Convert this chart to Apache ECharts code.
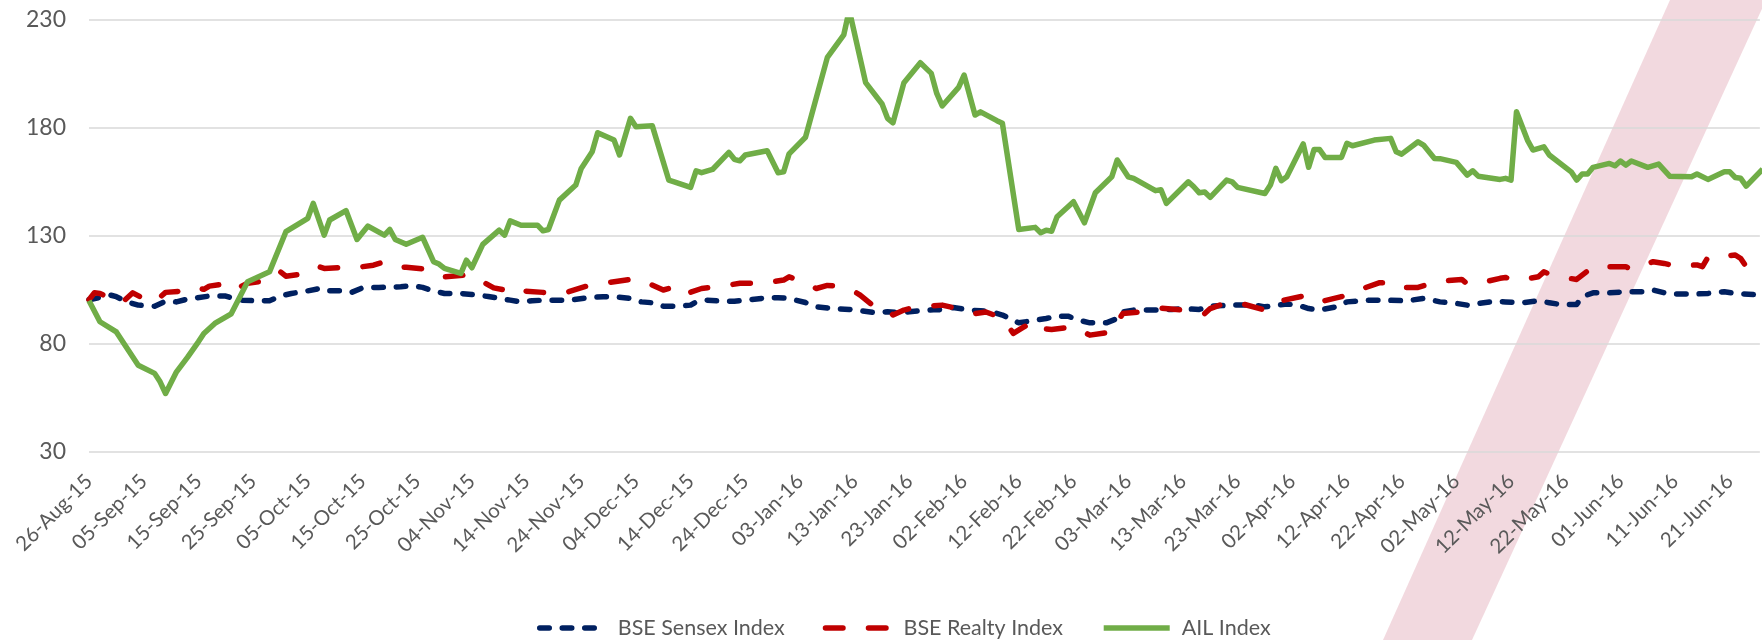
<!DOCTYPE html>
<html>
<head>
<meta charset="utf-8">
<title>BSE Sensex, BSE Realty and AIL Index</title>
<script src="https://cdn.jsdelivr.net/npm/echarts@6/dist/echarts.min.js"></script>
<style>
  html, body { margin: 0; padding: 0; background: #fff; }
  #chart { width: 1762px; height: 640px; }
</style>
</head>
<body>
<div id="chart"></div>
<script>
// x axis labels, one every 10 days from 26-Aug-15
var tickLabels = ['26-Aug-15', '05-Sep-15', '15-Sep-15', '25-Sep-15', '05-Oct-15', '15-Oct-15', '25-Oct-15',
  '04-Nov-15', '14-Nov-15', '24-Nov-15', '04-Dec-15', '14-Dec-15', '24-Dec-15', '03-Jan-16', '13-Jan-16',
  '23-Jan-16', '02-Feb-16', '12-Feb-16', '22-Feb-16', '03-Mar-16', '13-Mar-16', '23-Mar-16', '02-Apr-16',
  '12-Apr-16', '22-Apr-16', '02-May-16', '12-May-16', '22-May-16', '01-Jun-16', '11-Jun-16', '21-Jun-16'];
var yTicks = [30, 80, 130, 180, 230];

var sensexDates = ['26-Aug-15', '30-Aug-15', '31-Aug-15', '02-Sep-15', '04-Sep-15', '07-Sep-15', '09-Sep-15', '11-Sep-15',
  '13-Sep-15', '17-Sep-15', '20-Sep-15', '21-Sep-15', '23-Sep-15', '26-Sep-15', '28-Sep-15', '30-Sep-15', '02-Oct-15',
  '05-Oct-15', '07-Oct-15', '08-Oct-15', '11-Oct-15', '13-Oct-15', '15-Oct-15', '18-Oct-15', '22-Oct-15', '24-Oct-15',
  '26-Oct-15', '28-Oct-15', '30-Oct-15', '02-Nov-15', '04-Nov-15', '07-Nov-15', '11-Nov-15', '13-Nov-15', '15-Nov-15',
  '17-Nov-15', '22-Nov-15', '25-Nov-15', '28-Nov-15', '30-Nov-15', '03-Dec-15', '05-Dec-15', '07-Dec-15', '09-Dec-15',
  '11-Dec-15', '14-Dec-15', '15-Dec-15', '17-Dec-15', '20-Dec-15', '22-Dec-15', '24-Dec-15', '28-Dec-15', '30-Dec-15',
  '01-Jan-16', '04-Jan-16', '06-Jan-16', '09-Jan-16', '12-Jan-16', '14-Jan-16', '17-Jan-16', '19-Jan-16', '21-Jan-16',
  '23-Jan-16', '25-Jan-16', '28-Jan-16', '29-Jan-16', '31-Jan-16', '03-Feb-16', '05-Feb-16', '07-Feb-16', '09-Feb-16',
  '11-Feb-16', '12-Feb-16', '15-Feb-16', '17-Feb-16', '19-Feb-16', '21-Feb-16', '23-Feb-16', '25-Feb-16', '28-Feb-16',
  '01-Mar-16', '02-Mar-16', '04-Mar-16', '07-Mar-16', '11-Mar-16', '13-Mar-16', '16-Mar-16', '18-Mar-16', '22-Mar-16',
  '26-Mar-16', '28-Mar-16', '01-Apr-16', '03-Apr-16', '05-Apr-16', '07-Apr-16', '10-Apr-16', '12-Apr-16', '16-Apr-16',
  '19-Apr-16', '23-Apr-16', '26-Apr-16', '27-Apr-16', '29-Apr-16', '02-May-16', '04-May-16', '07-May-16', '09-May-16',
  '11-May-16', '14-May-16', '17-May-16', '19-May-16', '21-May-16', '24-May-16', '25-May-16', '27-May-16', '30-May-16',
  '02-Jun-16', '05-Jun-16', '07-Jun-16', '09-Jun-16', '11-Jun-16', '14-Jun-16', '17-Jun-16', '20-Jun-16', '22-Jun-16',
  '27-Jun-16'];
var sensexValues = [100.5, 102.6, 101.9, 99.5, 98, 97.5, 99.8, 99.5,
  100.8, 102.2, 102.2, 101.4, 100.3, 100, 100, 102.2, 103.4,
  104.6, 105.6, 104.6, 104.6, 103.9, 106, 106.2, 106.5, 107,
  106.2, 104.5, 103.4, 103.4, 102.9, 102, 100.3, 99.5, 100,
  100.3, 100.3, 101.4, 101.9, 101.9, 101.1, 99.5, 99.1, 97.5,
  97.5, 98, 99.5, 100.3, 99.8, 99.8, 100.3, 101.4, 101.4,
  101.1, 99.2, 97.2, 96.4, 96, 95.4, 94.4, 94.9, 94.6,
  94.9, 95.4, 96, 95.7, 96.9, 95.7, 95.4, 94.9, 93.4,
  91, 89.8, 91, 91.8, 92.9, 92.9, 91, 89.8, 89.8,
  91.8, 94.9, 95.7, 95.7, 96, 96.4, 96, 97.5, 98,
  98, 97.2, 98.5, 98, 96.4, 95.7, 97.2, 99.5, 100.3,
  100.3, 100, 101.1, 100.6, 99.5, 98.8, 98, 99.1, 99.8,
  99.5, 99.1, 100, 99.1, 98.3, 98.3, 101.9, 103.7, 103.7,
  104.2, 104.2, 105, 103.7, 103.1, 103.1, 103.4, 104.2, 103.4,
  102.6];

var realtyDates = ['26-Aug-15', '27-Aug-15', '28-Aug-15', '30-Aug-15', '01-Sep-15', '03-Sep-15', '05-Sep-15', '07-Sep-15',
  '09-Sep-15', '12-Sep-15', '14-Sep-15', '16-Sep-15', '17-Sep-15', '19-Sep-15', '21-Sep-15', '22-Sep-15', '24-Sep-15',
  '28-Sep-15', '30-Sep-15', '01-Oct-15', '05-Oct-15', '07-Oct-15', '08-Oct-15', '12-Oct-15', '14-Oct-15', '15-Oct-15',
  '17-Oct-15', '19-Oct-15', '21-Oct-15', '23-Oct-15', '27-Oct-15', '28-Oct-15', '30-Oct-15', '03-Nov-15', '05-Nov-15',
  '06-Nov-15', '08-Nov-15', '10-Nov-15', '11-Nov-15', '13-Nov-15', '17-Nov-15', '21-Nov-15', '25-Nov-15', '28-Nov-15',
  '03-Dec-15', '04-Dec-15', '06-Dec-15', '09-Dec-15', '10-Dec-15', '12-Dec-15', '14-Dec-15', '16-Dec-15', '19-Dec-15',
  '23-Dec-15', '27-Dec-15', '31-Dec-15', '01-Jan-16', '03-Jan-16', '06-Jan-16', '08-Jan-16', '09-Jan-16', '13-Jan-16',
  '14-Jan-16', '16-Jan-16', '19-Jan-16', '20-Jan-16', '22-Jan-16', '23-Jan-16', '26-Jan-16', '29-Jan-16', '02-Feb-16',
  '04-Feb-16', '06-Feb-16', '09-Feb-16', '11-Feb-16', '13-Feb-16', '15-Feb-16', '16-Feb-16', '18-Feb-16', '22-Feb-16',
  '25-Feb-16', '29-Feb-16', '02-Mar-16', '06-Mar-16', '09-Mar-16', '13-Mar-16', '17-Mar-16', '18-Mar-16', '21-Mar-16',
  '24-Mar-16', '28-Mar-16', '30-Mar-16', '04-Apr-16', '05-Apr-16', '07-Apr-16', '11-Apr-16', '14-Apr-16', '18-Apr-16',
  '20-Apr-16', '21-Apr-16', '25-Apr-16', '27-Apr-16', '28-Apr-16', '03-May-16', '04-May-16', '06-May-16', '10-May-16',
  '11-May-16', '13-May-16', '17-May-16', '18-May-16', '20-May-16', '24-May-16', '27-May-16', '31-May-16', '02-Jun-16',
  '03-Jun-16', '07-Jun-16', '09-Jun-16', '11-Jun-16', '15-Jun-16', '16-Jun-16', '17-Jun-16', '22-Jun-16', '23-Jun-16',
  '24-Jun-16', '27-Jun-16'];
var realtyValues = [100.5, 103.7, 103.4, 101, 99.1, 103.7, 101, 99.5,
  103.9, 104.5, 106.5, 105.3, 106.8, 107.5, 108.1, 105.7, 108.1,
  109.6, 113.4, 111.4, 112.7, 115.8, 115, 115.5, 116.2, 115.8,
  116.5, 118.1, 115.8, 115.5, 114.5, 113, 111.1, 111.9, 108.8,
  108.8, 106, 105, 106.5, 104.6, 103.9, 103.7, 106.8, 108.1,
  109.9, 108.4, 108.4, 105, 105.7, 102.2, 104, 105.7, 106.5,
  108.1, 108.1, 109.6, 111.1, 109.3, 105.7, 107.1, 107, 104.2,
  102.6, 98.5, 96.4, 93.4, 95.7, 96.4, 97.5, 98, 95.7,
  94.1, 94.8, 92, 84.9, 88, 90.3, 87.2, 86.7, 88,
  84.1, 85.6, 94.1, 95, 96.6, 95.7, 94.1, 96.4, 99.1,
  98.5, 95.7, 99.5, 102.2, 100.3, 99.5, 101.9, 104.9, 108.4,
  108.1, 106.2, 106.2, 107.8, 108.9, 109.9, 107.8, 108.1, 110.4,
  110.8, 109.3, 111.1, 113.4, 111.4, 109.9, 115.8, 115.8, 115.8,
  114.5, 118.1, 117.3, 116.1, 116.6, 115.8, 120.1, 121.2, 119.6,
  115.8, 112];

var ailDates = ['26-Aug-15', '28-Aug-15', '31-Aug-15', '04-Sep-15', '07-Sep-15', '08-Sep-15', '09-Sep-15', '11-Sep-15',
  '13-Sep-15', '15-Sep-15', '16-Sep-15', '18-Sep-15', '21-Sep-15', '24-Sep-15', '28-Sep-15', '01-Oct-15', '05-Oct-15',
  '06-Oct-15', '08-Oct-15', '09-Oct-15', '12-Oct-15', '14-Oct-15', '16-Oct-15', '19-Oct-15', '20-Oct-15', '21-Oct-15',
  '23-Oct-15', '26-Oct-15', '28-Oct-15', '29-Oct-15', '30-Oct-15', '02-Nov-15', '03-Nov-15', '04-Nov-15', '06-Nov-15',
  '09-Nov-15', '10-Nov-15', '11-Nov-15', '13-Nov-15', '16-Nov-15', '17-Nov-15', '18-Nov-15', '20-Nov-15', '23-Nov-15',
  '24-Nov-15', '26-Nov-15', '27-Nov-15', '30-Nov-15', '01-Dec-15', '03-Dec-15', '04-Dec-15', '07-Dec-15', '10-Dec-15',
  '11-Dec-15', '14-Dec-15', '15-Dec-15', '16-Dec-15', '18-Dec-15', '21-Dec-15', '22-Dec-15', '23-Dec-15', '24-Dec-15',
  '28-Dec-15', '30-Dec-15', '31-Dec-15', '01-Jan-16', '04-Jan-16', '08-Jan-16', '11-Jan-16', '12-Jan-16', '15-Jan-16',
  '18-Jan-16', '19-Jan-16', '20-Jan-16', '22-Jan-16', '25-Jan-16', '27-Jan-16', '28-Jan-16', '29-Jan-16', '01-Feb-16',
  '02-Feb-16', '04-Feb-16', '05-Feb-16', '08-Feb-16', '09-Feb-16', '12-Feb-16', '15-Feb-16', '16-Feb-16', '17-Feb-16',
  '18-Feb-16', '19-Feb-16', '22-Feb-16', '24-Feb-16', '26-Feb-16', '29-Feb-16', '01-Mar-16', '03-Mar-16', '04-Mar-16',
  '08-Mar-16', '09-Mar-16', '10-Mar-16', '14-Mar-16', '15-Mar-16', '16-Mar-16', '17-Mar-16', '18-Mar-16', '21-Mar-16',
  '22-Mar-16', '23-Mar-16', '28-Mar-16', '29-Mar-16', '30-Mar-16', '31-Mar-16', '01-Apr-16', '04-Apr-16', '05-Apr-16',
  '06-Apr-16', '07-Apr-16', '08-Apr-16', '11-Apr-16', '12-Apr-16', '13-Apr-16', '17-Apr-16', '20-Apr-16', '21-Apr-16',
  '22-Apr-16', '25-Apr-16', '26-Apr-16', '28-Apr-16', '29-Apr-16', '02-May-16', '04-May-16', '05-May-16', '06-May-16',
  '10-May-16', '11-May-16', '12-May-16', '13-May-16', '15-May-16', '16-May-16', '18-May-16', '19-May-16', '23-May-16',
  '24-May-16', '25-May-16', '26-May-16', '27-May-16', '30-May-16', '31-May-16', '01-Jun-16', '02-Jun-16', '03-Jun-16',
  '06-Jun-16', '08-Jun-16', '10-Jun-16', '14-Jun-16', '15-Jun-16', '17-Jun-16', '20-Jun-16', '21-Jun-16', '22-Jun-16',
  '23-Jun-16', '24-Jun-16', '27-Jun-16'];
var ailValues = [100, 90.3, 85.6, 70.2, 66.4, 62.5, 57.1, 67.1,
  73.8, 81, 84.9, 89.5, 94, 108.8, 113.4, 132, 138.2,
  145.1, 130.4, 137.4, 141.7, 128.4, 134.6, 130.4, 133, 128.4,
  126.2, 129.4, 118.1, 117, 115, 112.7, 118.8, 115.3, 126.1,
  132.7, 130.4, 137, 135, 135, 132.4, 133, 146.6, 153.6,
  161.3, 169, 177.8, 174.4, 167.5, 184.5, 180.6, 181, 155.9,
  155.1, 152.5, 160.2, 159.3, 160.8, 168.7, 165.5, 164.8, 167.5,
  169.5, 159.3, 159.7, 168, 175.7, 212.7, 223.1, 234.6, 201,
  191.1, 184.5, 182.4, 201, 210.2, 205.3, 196, 190.2, 198.8,
  204.5, 186, 187.5, 183.4, 182.2, 133, 134, 131.5, 132.7,
  132.2, 138.9, 145.9, 136.1, 150, 157.4, 165.2, 157.4, 156.7,
  151, 151.4, 145.1, 155.1, 152.8, 150, 150.4, 147.9, 155.9,
  155.1, 152.5, 149.7, 153.6, 161.3, 155.6, 157.4, 172.6, 161.8,
  170.1, 170, 166.4, 166.4, 172.9, 171.8, 174.4, 175.2, 169,
  167.9, 173.6, 172.1, 165.9, 165.8, 164.1, 158.2, 160.2, 157.7,
  156.2, 156.7, 155.9, 187.5, 174.4, 169.8, 171.3, 167.5, 159.7,
  155.9, 158.7, 158.7, 161.8, 163.6, 162.5, 164.7, 162.8, 164.7,
  161.8, 163.3, 157.7, 157.4, 158.7, 156.2, 159.7, 159.7, 157.1,
  156.7, 153.1, 161];

var months = { Jan: 0, Feb: 1, Mar: 2, Apr: 3, May: 4, Jun: 5, Jul: 6, Aug: 7, Sep: 8, Oct: 9, Nov: 10, Dec: 11 };
var start = Date.UTC(2015, 7, 26);

// days since 26-Aug-15, so the x axis can tick every 10 days like the original
function dayIndex(s) {
  var p = s.split('-');
  return Math.round((Date.UTC(2000 + Number(p[2]), months[p[1]], Number(p[0])) - start) / 86400000);
}
function pairs(dates, values) {
  var out = [];
  for (var i = 0; i < dates.length; i++) {
    out.push([dayIndex(dates[i]), values[i]]);
  }
  return out;
}

var font = 'Lato, "Open Sans", sans-serif';
var grey = '#595959';

var chart = echarts.init(document.getElementById('chart'));
chart.setOption({
  animation: false,
  backgroundColor: '#fff',
  grid: { left: 89, right: 0, top: 20, bottom: 188 },
  legend: {
    left: 532,
    top: 612,
    itemWidth: 66,
    itemHeight: 14,
    itemGap: 38,
    itemStyle: { opacity: 0 },
    lineStyle: { width: 5.5 },
    textStyle: { fontFamily: font, fontSize: 21.5, color: grey, padding: [0, 0, 0, 7] },
    data: ['BSE Sensex Index', 'BSE Realty Index', 'AIL Index']
  },
  xAxis: {
    type: 'value',
    min: 0,
    max: 305.5,
    interval: 10,
    axisLine: { show: false },
    axisTick: { show: false },
    splitLine: { show: false },
    axisLabel: {
      rotate: 45,
      margin: 26,
      fontFamily: font,
      fontSize: 20.5,
      color: grey,
      formatter: function (v) {
        return v % 10 === 0 ? (tickLabels[v / 10] || '') : '';
      }
    }
  },
  yAxis: {
    type: 'value',
    min: yTicks[0],
    max: yTicks[yTicks.length - 1],
    interval: 50,
    axisLine: { show: false },
    axisTick: { show: false },
    splitLine: { lineStyle: { color: '#D9D9D9', width: 1.5 } },
    axisLabel: { margin: 23, fontFamily: font, fontSize: 23, color: grey }
  },
  graphic: [{
    type: 'polygon',
    z: -1,
    silent: true,
    shape: { points: [[1670, 0], [1766, 0], [1472, 640], [1383, 640]] },
    style: { fill: 'rgba(222, 155, 170, 0.38)' }
  }],
  series: [{
    name: 'BSE Sensex Index',
    type: 'line',
    symbol: 'none',
    data: pairs(sensexDates, sensexValues),
    itemStyle: { color: '#002060' },
    lineStyle: { color: '#002060', width: 5.5, type: [9.5, 13], cap: 'round', join: 'round' }
  }, {
    name: 'BSE Realty Index',
    type: 'line',
    symbol: 'none',
    data: pairs(realtyDates, realtyValues),
    itemStyle: { color: '#C00000' },
    lineStyle: { color: '#C00000', width: 5.5, type: [17.5, 25.5], cap: 'round', join: 'round' }
  }, {
    name: 'AIL Index',
    type: 'line',
    symbol: 'none',
    data: pairs(ailDates, ailValues),
    itemStyle: { color: '#70AD47' },
    lineStyle: { color: '#70AD47', width: 5.5, join: 'round' }
  }]
});
</script>
</body>
</html>
